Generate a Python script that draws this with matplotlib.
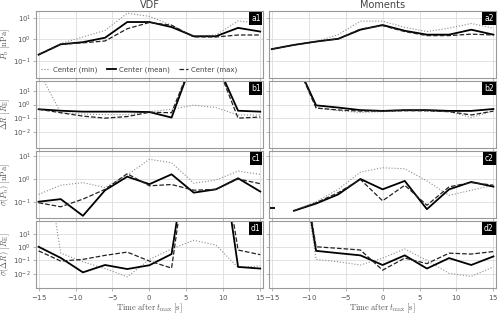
import numpy as np
import matplotlib
matplotlib.use('Agg')
import matplotlib.pyplot as plt

plt.rcParams['mathtext.fontset'] = 'cm'
plt.rcParams['font.family'] = ['DejaVu Sans']
plt.rcParams['axes.formatter.use_mathtext'] = True

t = [-15, -12, -9, -6, -3, 0, 3, 6, 9, 12, 15]
big = 1e10

# P_b, VDF
a1_min = [0.2, 0.65, 1.3, 2.6, 16, 11.4, 4.5, 1.4, 1.6, 7.1, 5.5]
a1_mean = [0.2, 0.6, 0.75, 1.2, 6.3, 6.3, 3.7, 1.4, 1.4, 3.4, 2.3]
a1_max = [0.2, 0.6, 0.7, 0.85, 3.1, 6.0, 4.5, 1.3, 1.3, 1.6, 1.6]
# P_b, moments
a2_min = [0.36, 0.56, 0.8, 1.66, 6.9, 6.9, 3.6, 2.3, 3.3, 5.4, 3.3]
a2_mean = [0.36, 0.56, 0.8, 1.07, 2.8, 4.6, 2.5, 1.66, 1.66, 2.8, 1.66]
a2_max = [0.36, 0.56, 0.8, 1.07, 3.0, 4.3, 2.3, 1.5, 1.5, 1.75, 1.6]

# Delta R
b1_min = [300, 0.25, 0.2, 0.18, 0.18, 0.3, 0.45, 0.9, 0.6, 0.17, 0.17]
b1_mean = [0.45, 0.35, 0.3, 0.3, 0.3, 0.28, 0.11, 3000, 1500, 0.35, 0.3]
b1_max = [0.45, 0.25, 0.14, 0.1, 0.13, 0.27, 0.25, 3000, 1500, 0.1, 0.12]
b2_min = [3000, 3000, 0.6, 0.35, 0.26, 0.3, 0.35, 0.33, 0.3, 0.11, 0.34]
b2_mean = [3000, 3000, 0.87, 0.6, 0.39, 0.34, 0.39, 0.39, 0.34, 0.34, 0.47]
b2_max = [3000, 3000, 0.55, 0.4, 0.33, 0.34, 0.35, 0.35, 0.3, 0.17, 0.33]

# sigma(P_b)
c1_min = [0.21, 0.53, 0.69, 0.42, 1.5, 7.3, 5.2, 0.65, 0.9, 2.2, 1.6]
c1_mean = [0.1, 0.13, 0.024, 0.32, 1.26, 0.59, 1.6, 0.25, 0.35, 1.07, 0.28]
c1_max = [0.09, 0.06, 0.13, 0.35, 1.7, 0.5, 0.57, 0.32, 0.35, 1.0, 0.62]
c2_min = [np.nan, 0.04, 0.1, 0.35, 2.0, 3.1, 2.8, 0.82, 0.19, 0.32, 0.53]
c2_mean = [0.055, 0.04, 0.083, 0.21, 1.0, 0.35, 0.82, 0.047, 0.35, 0.74, 0.46]
c2_max = [np.nan, 0.04, 0.09, 0.25, 0.95, 0.11, 0.53, 0.07, 0.45, 0.7, 0.53]

# sigma(Delta R)
d1_min = [big, 0.35, 0.08, 0.025, 0.006, 0.12, 0.72, 3.2, 1.4, 0.03, 0.04]
d1_mean = [1.05, 0.155, 0.013, 0.046, 0.023, 0.044, 0.3, big, big, 0.033, 0.025]
d1_max = [0.52, 0.09, 0.12, 0.24, 0.42, 0.09, 0.027, big, big, 0.6, 0.27]
d2_min = [big, big, 0.12, 0.08, 0.046, 0.15, 0.72, 0.1, 0.011, 0.0065, 0.033]
d2_mean = [big, big, 0.52, 0.35, 0.24, 0.046, 0.24, 0.025, 0.15, 0.046, 0.2]
d2_max = [big, big, 1.05, 0.8, 0.6, 0.019, 0.15, 0.058, 0.35, 0.3, 0.46]

rows = [
    ([a1_min, a1_mean, a1_max], [a2_min, a2_mean, a2_max], (10**-1.76, 10**1.32), [0.1, 1, 10],
     r'$P_\mathrm{b}\ [\mathrm{nPa}]$'),
    ([b1_min, b1_mean, b1_max], [b2_min, b2_mean, b2_max], (10**-3.2, 10**1.75), [0.01, 0.1, 1, 10],
     r'$\Delta R\ [R_\mathrm{E}]$'),
    ([c1_min, c1_mean, c1_max], [c2_min, c2_mean, c2_max], (10**-1.72, 10**1.23), [0.1, 1, 10],
     r'$\sigma(P_\mathrm{b})\ [\mathrm{nPa}]$'),
    ([d1_min, d1_mean, d1_max], [d2_min, d2_mean, d2_max], (10**-3.07, 10**1.93), [0.01, 0.1, 1, 10],
     r'$\sigma(\Delta R)\ [R_\mathrm{E}]$'),
]
row_letters = ['a', 'b', 'c', 'd']

styles = [
    dict(color='#8c8c8c', lw=0.8, ls=':', label='Center (min)'),
    dict(color='black', lw=1.3, ls='-', label='Center (mean)'),
    dict(color='#222222', lw=0.9, ls='--', label='Center (max)'),
]

fig, axes = plt.subplots(4, 2, figsize=(5, 3.14), dpi=100, sharex=True)
fig.subplots_adjust(left=0.072, right=0.992, top=0.966, bottom=0.082, hspace=0.045, wspace=0.028)

for r, (left, right, ylim, yt, ylab) in enumerate(rows):
    for c, series in enumerate([left, right]):
        ax = axes[r, c]
        for s, st in zip(series, styles):
            y = np.array(s, dtype=float)
            if r == 2 and c == 1 and st['ls'] == '-':
                # lone first value drawn as a short mark
                ax.plot(t[0], y[0], marker='_', color='black', ms=4, mew=1.3)
                y = y.copy()
                y[0] = np.nan
            ax.plot(t, y, **st)
        ax.set_yscale('log')
        ax.set_ylim(ylim)
        ax.set_yticks(yt)
        ax.yaxis.set_minor_locator(matplotlib.ticker.NullLocator())
        ax.set_xlim(-15.35, 15.35)
        ax.set_xticks([-15, -10, -5, 0, 5, 10, 15])
        ax.grid(True, color='#dddddd', lw=0.6)
        ax.set_axisbelow(True)
        for sp in ax.spines.values():
            sp.set_color('#999999')
            sp.set_linewidth(0.8)
        ax.tick_params(labelsize=5, length=2, width=0.5, color='#999999', labelcolor='#555555', pad=1.5)
        if c == 1:
            ax.tick_params(labelleft=False)
        else:
            ax.set_ylabel(ylab, fontsize=6, color='#555555', labelpad=1)
        ax.text(0.99, 0.955, row_letters[r] + str(c + 1), transform=ax.transAxes,
                ha='right', va='top', color='white', fontsize=5.5,
                bbox=dict(facecolor='black', edgecolor='none', boxstyle='square,pad=0.25'))
        if r == 3:
            ax.set_xlabel(r'$\mathrm{Time\ after}\ t_\mathrm{max}\ [\mathrm{s}]$', fontsize=6,
                          color='#555555', labelpad=0)

axes[0, 0].set_title('VDF', fontsize=7, color='#444444', pad=2)
axes[0, 1].set_title('Moments', fontsize=7, color='#444444', pad=2)
axes[0, 0].legend(loc='lower left', ncol=3, fontsize=5, frameon=False, handlelength=1.3,
                  handletextpad=0.4, columnspacing=1.4, borderaxespad=0.3, labelcolor='#444444')

plt.savefig('out.png', dpi=100)
